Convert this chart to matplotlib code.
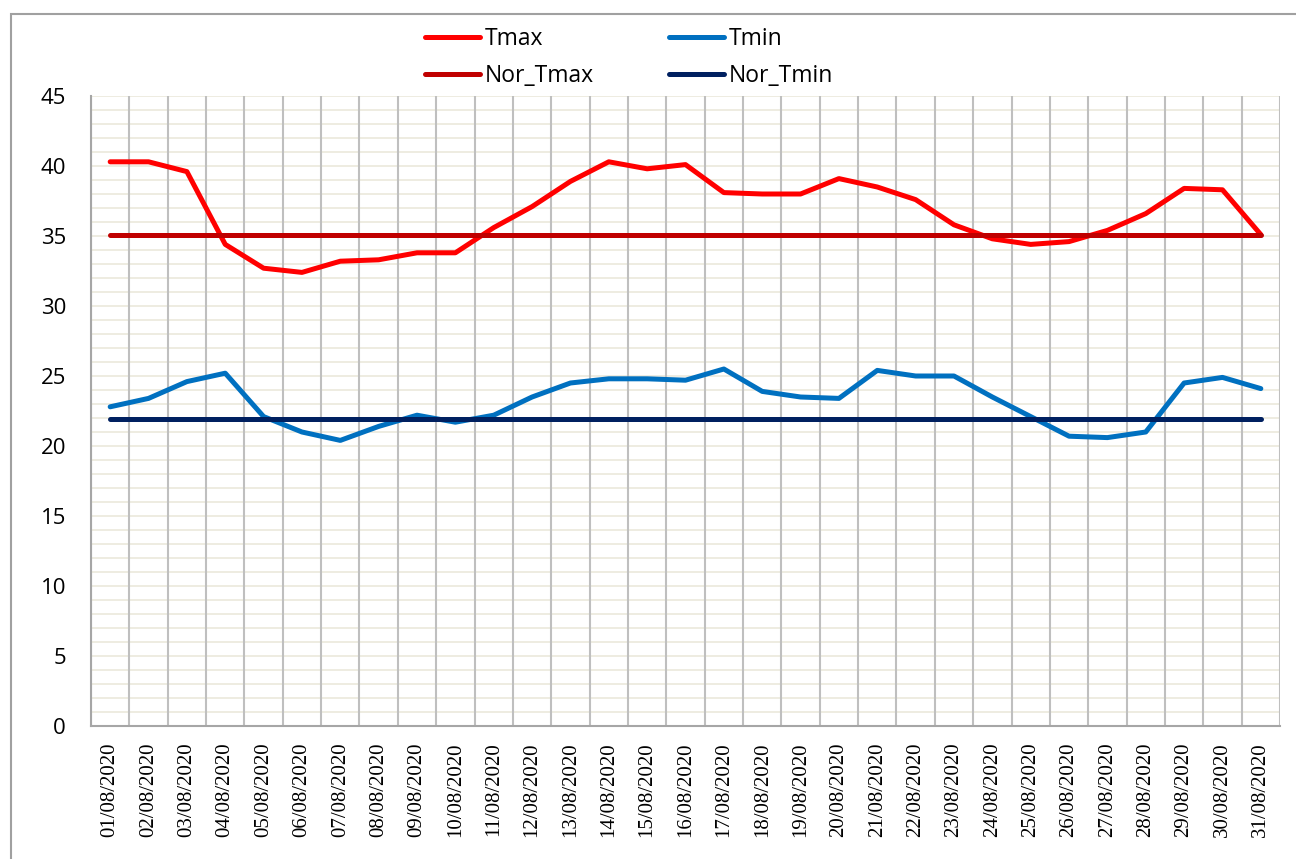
import numpy as np
import matplotlib.pyplot as plt
from matplotlib.patches import Rectangle

# daily values for August 2020
dates = [f"{d:02d}/08/2020" for d in range(1, 32)]
tmax = [40.3, 40.3, 39.6, 34.4, 32.7, 32.4, 33.2, 33.3, 33.8, 33.8,
        35.6, 37.1, 38.9, 40.3, 39.8, 40.1, 38.1, 38.0, 38.0, 39.1,
        38.5, 37.6, 35.8, 34.8, 34.4, 34.6, 35.4, 36.6, 38.4, 38.3, 35.1]
tmin = [22.8, 23.4, 24.6, 25.2, 22.1, 21.0, 20.4, 21.4, 22.2, 21.7,
        22.2, 23.5, 24.5, 24.8, 24.8, 24.7, 25.5, 23.9, 23.5, 23.4,
        25.4, 25.0, 25.0, 23.5, 22.1, 20.7, 20.6, 21.0, 24.5, 24.9, 24.1]
nor_tmax = [35.1] * 31
nor_tmin = [21.9] * 31

fig = plt.figure(figsize=(12.96, 8.59), dpi=100)
ax = fig.add_axes([91 / 1296, 133 / 859, (1280 - 91) / 1296, (726 - 96) / 859])

x = np.arange(len(dates))

# light minor horizontal grid every 1 unit, grey vertical lines between categories
for v in range(0, 46):
    ax.axhline(v, color='#EEECE1', lw=1.4, zorder=0)
for b in np.arange(-0.5, len(dates), 1.0):
    ax.axvline(b, color='#BFBFBF', lw=1.5, zorder=1)

kw = dict(lw=3.6, solid_capstyle='round', solid_joinstyle='round', zorder=3)
l1, = ax.plot(x, tmax, color='#FF0000', label='Tmax', **kw)
l2, = ax.plot(x, tmin, color='#0070C0', label='Tmin', **kw)
l3, = ax.plot(x, nor_tmax, color='#C00000', label='Nor_Tmax', **kw)
l4, = ax.plot(x, nor_tmin, color='#002060', label='Nor_Tmin', **kw)

ax.set_xlim(-0.5, len(dates) - 0.5)
ax.set_ylim(0, 45)
ax.set_yticks(range(0, 46, 5))
ax.set_yticklabels([str(v) for v in range(0, 46, 5)], fontsize=16, family='Open Sans')
ax.set_xticks(x)
ax.set_xticklabels(dates, rotation=90, fontsize=15, family='Liberation Serif')
ax.tick_params(axis='both', length=0)
ax.tick_params(axis='y', pad=18)
ax.tick_params(axis='x', pad=12)

for s in ['top', 'right']:
    ax.spines[s].set_visible(False)
ax.spines['left'].set_color('#A6A6A6')
ax.spines['bottom'].set_color('#A6A6A6')
ax.spines['left'].set_linewidth(1.5)
ax.spines['bottom'].set_linewidth(1.5)

fig.legend([l1, l3, l2, l4], ['Tmax', 'Nor_Tmax', 'Tmin', 'Nor_Tmin'],
           ncol=2, loc='upper left', bbox_to_anchor=(425 / 1296, 1 - 27 / 859),
           frameon=False, borderpad=0, borderaxespad=0,
           handlelength=2.4, handletextpad=0.2, columnspacing=3.3,
           labelspacing=0.55, prop={'family': 'Open Sans', 'size': 16.5})

# outer chart border
fig.patches.append(Rectangle((11 / 1296, -0.05), 1.1, 1 - 14 / 859 + 0.05,
                             transform=fig.transFigure, fill=False,
                             edgecolor='#A0A0A0', lw=1.5))

fig.savefig('out.png', dpi=100)
